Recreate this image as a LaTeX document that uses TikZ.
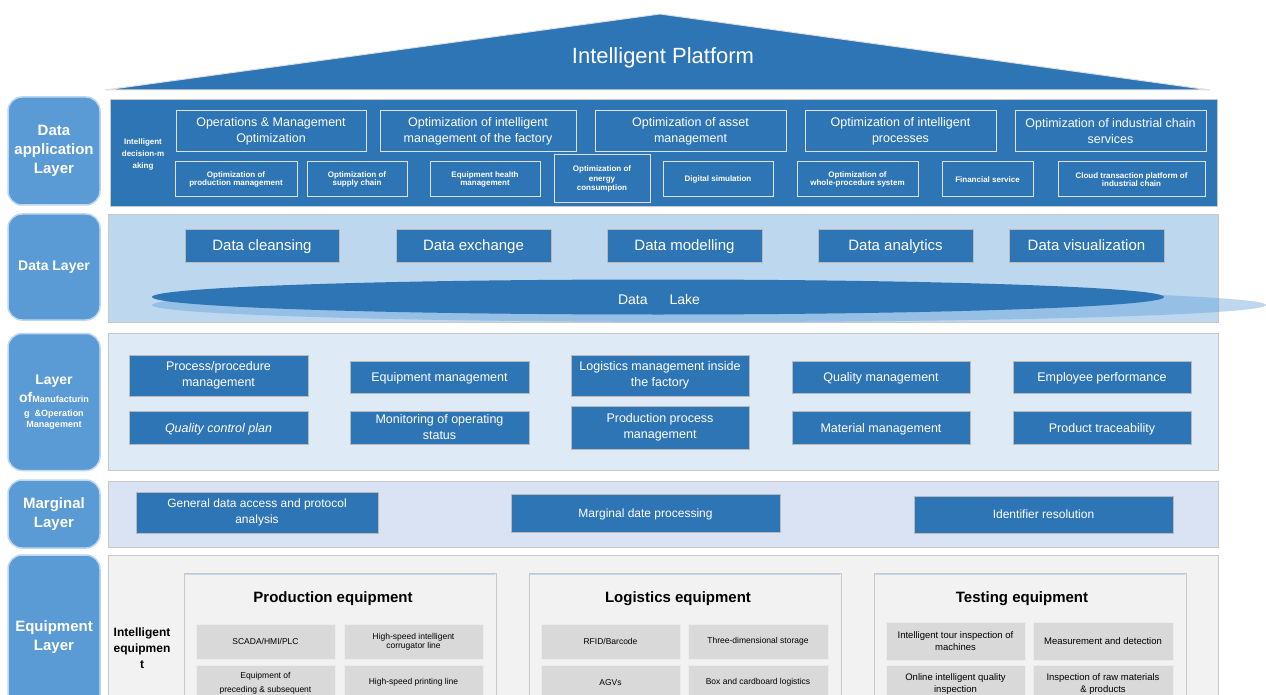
\documentclass[tikz,border=0pt]{standalone}
\usepackage{fontspec}
\setmainfont{Liberation Sans}
\definecolor{dblue}{HTML}{2E75B6}
\definecolor{lblue}{HTML}{5B9BD5}
\definecolor{lblborder}{HTML}{BDD7EE}
\definecolor{dlfill}{HTML}{BDD7EE}
\definecolor{momfill}{HTML}{DEEBF7}
\definecolor{mlfill}{HTML}{DAE3F3}
\definecolor{elfill}{HTML}{F2F2F2}
\definecolor{cellfill}{HTML}{D9D9D9}
\definecolor{panelborder}{HTML}{C8C8C8}
\newcommand{\fs}[2]{\fontsize{#1}{#2}\selectfont}
\tikzset{
  layerlabel/.style={rounded corners=14pt, fill=lblue, draw=lblborder, line width=1.5pt, text=white, align=center, inner sep=0pt, font=\bfseries\fs{15}{19}},
  panel/.style={draw=panelborder, line width=1pt},
  apbig/.style={draw=white!75!gray, line width=1pt, text=white, align=center, inner sep=0pt, font=\fs{12.5}{16}},
  apsmall/.style={draw=white!75!gray, line width=1pt, text=white, align=center, inner sep=0pt, font=\bfseries\fs{8}{8.5}},
  dbox/.style={fill=dblue, draw=gray!55, line width=0.8pt, text=white, align=center, inner sep=0pt, text depth=0pt, font=\fs{15}{18}},
  mbox/.style={fill=dblue, draw=gray!55, line width=0.8pt, text=white, align=center, inner sep=0pt, font=\fs{12.5}{16}},
  subpanel/.style={fill=elfill, draw=panelborder, line width=1pt},
  eqtitle/.style={font=\bfseries\fs{15}{18}, inner sep=0pt},
  cell/.style={fill=cellfill, draw=white!85!gray, line width=0.8pt, align=center, inner sep=0pt, font=\fs{8.5}{9}},
}
\begin{document}
\begin{tikzpicture}[x=1pt,y=-1pt]
\useasboundingbox (0,0) rectangle (1266,695);
\clip (0,0) rectangle (1266,695);
\fill[white] (0,0) rectangle (1266,695);
% roof
\filldraw[fill=dblue, draw=gray!25, line width=1pt] (105,90) -- (660,14) -- (1210,90) -- cycle;
\node[text=white, font=\fs{22}{26}] (title) at (663,58) {Intelligent Platform};
% layer labels
\node[layerlabel, minimum width=92pt, minimum height=108pt] (lab1) at (54,151) {Data\\application\\Layer};
\node[layerlabel, minimum width=92pt, minimum height=106pt, font=\bfseries\fs{14}{17}] (lab2) at (54,267) {Data Layer};
\node[layerlabel, minimum width=92pt, minimum height=137pt, font=\bfseries\fs{9}{11}] (lab3) at (54,402) {{\fs{14}{20}Layer}\\[4pt]{\fs{14}{12}of}Manufacturin\\[3pt]g\ \ \&Operation\\Management};
\node[layerlabel, minimum width=92pt, minimum height=68pt] (lab4) at (54,514) {Marginal\\Layer};
\node[layerlabel, minimum width=92pt, minimum height=165pt] (lab5) at (54,637.5) {Equipment\\Layer};
% panels
\filldraw[panel, fill=dblue] (110,100) rectangle (1217,207);
\filldraw[panel, fill=dlfill] (108,215) rectangle (1218,322);
\filldraw[panel, fill=momfill] (108,333) rectangle (1218,470);
\filldraw[panel, fill=mlfill] (108,481) rectangle (1218,547);
\filldraw[panel, fill=elfill] (108,555) rectangle (1218,720);
% data application layer
\node[text=white, align=center, font=\bfseries\fs{8}{12}, inner sep=0pt] (dec) at (143,154) {Intelligent\\decision-m\\aking};
\node[apbig, minimum width=190pt, minimum height=41pt] (a1) at (271,131.5) {Operations \& Management\\Optimization};
\node[apbig, minimum width=196pt, minimum height=41pt] (a2) at (478,131.5) {Optimization of intelligent\\management of the factory};
\node[apbig, minimum width=191pt, minimum height=41pt] (a3) at (690.5,131.5) {Optimization of asset\\management};
\node[apbig, minimum width=191pt, minimum height=41pt] (a4) at (900.5,131.5) {Optimization of intelligent\\processes};
\node[apbig, minimum width=191pt, minimum height=41pt] (a5) at (1110.5,131.5) {Optimization of industrial chain\\services};
\node[apsmall, minimum width=122pt, minimum height=35pt] (b1) at (236,179.5) {Optimization of\\production management};
\node[apsmall, minimum width=100pt, minimum height=35pt] (b2) at (357,179.5) {Optimization of\\supply chain};
\node[apsmall, minimum width=110pt, minimum height=35pt] (b3) at (485,179.5) {Equipment health\\management};
\node[apsmall, minimum width=96pt, minimum height=48pt, font=\bfseries\fs{8}{9.5}] (b4) at (602,179) {Optimization of\\energy\\consumption};
\node[apsmall, minimum width=110pt, minimum height=35pt] (b5) at (718,179.5) {Digital simulation};
\node[apsmall, minimum width=121pt, minimum height=35pt] (b6) at (857.5,179.5) {Optimization of\\whole-procedure system};
\node[apsmall, minimum width=91pt, minimum height=35pt] (b7) at (987.5,179.5) {Financial service};
\node[apsmall, minimum width=147pt, minimum height=35pt] (b8) at (1131.5,179.5) {Cloud transaction platform of\\industrial chain};
% data layer
\begin{scope}
\clip (0,215) rectangle (1266,330);
\fill[lblue, opacity=0.4] (709,305) ellipse [x radius=557, y radius=17];
\end{scope}
\fill[dblue] (658,297) ellipse [x radius=506, y radius=17.5];
\node[text=white, font=\fs{14}{17}] (lake) at (659,299) {Data\hspace{22pt}Lake};
\node[dbox, minimum width=154pt, minimum height=33pt] (d1) at (262,245.5) {Data cleansing};
\node[dbox, minimum width=155pt, minimum height=33pt] (d2) at (473.5,245.5) {Data exchange};
\node[dbox, minimum width=155pt, minimum height=33pt] (d3) at (684.5,245.5) {Data modelling};
\node[dbox, minimum width=155pt, minimum height=33pt] (d4) at (895.5,245.5) {Data analytics};
\node[dbox, minimum width=155pt, minimum height=33pt] (d5) at (1086.5,245.5) {Data visualization};
% manufacturing & operation management
\node[mbox, minimum width=179pt, minimum height=41pt] (m1) at (218.5,375.5) {Process/procedure\\management};
\node[mbox, minimum width=179pt, minimum height=32pt, text depth=0pt] (m2) at (439.5,377) {Equipment management};
\node[mbox, minimum width=178pt, minimum height=41pt] (m3) at (660,375.5) {Logistics management inside\\the factory};
\node[mbox, minimum width=178pt, minimum height=32pt, text depth=0pt] (m4) at (881,377) {Quality management};
\node[mbox, minimum width=178pt, minimum height=32pt, text depth=0pt] (m5) at (1102,377) {Employee performance};
\node[mbox, minimum width=179pt, minimum height=33pt, text depth=0pt, font=\itshape\fs{12.5}{16}] (n1) at (218.5,427.5) {Quality control plan};
\node[mbox, minimum width=179pt, minimum height=33pt] (n2) at (439.5,427.5) {Monitoring of operating\\status};
\node[mbox, minimum width=178pt, minimum height=43pt] (n3) at (660,427.5) {Production process\\management};
\node[mbox, minimum width=178pt, minimum height=33pt, text depth=0pt] (n4) at (881,427.5) {Material management};
\node[mbox, minimum width=178pt, minimum height=33pt, text depth=0pt] (n5) at (1102,427.5) {Product traceability};
% marginal layer
\node[mbox, minimum width=242pt, minimum height=41pt, font=\fs{12}{16}] (g1) at (257,512.5) {General data access and protocol\\analysis};
\node[mbox, minimum width=269pt, minimum height=38pt, text depth=0pt, font=\fs{12}{16}] (g2) at (645.5,513) {Marginal date processing};
\node[mbox, minimum width=259pt, minimum height=37pt, text depth=0pt, font=\fs{12}{16}] (g3) at (1043.5,514.5) {Identifier resolution};
% equipment layer
\node[align=center, font=\bfseries\fs{12}{16}, inner sep=0pt] (ie) at (142,648) {Intelligent\\equipmen\\t};
\filldraw[subpanel] (184,573) rectangle (496,720);
\filldraw[subpanel] (529,573) rectangle (841,720);
\filldraw[subpanel] (874,573) rectangle (1186,720);
\draw[lblborder, line width=1pt] (185,574) -- (495,574);
\draw[lblborder, line width=1pt] (530,574) -- (840,574);
\draw[lblborder, line width=1pt] (875,574) -- (1185,574);
\node[eqtitle] (t1) at (333,599) {Production equipment};
\node[eqtitle] (t2) at (678,599) {Logistics equipment};
\node[eqtitle] (t3) at (1022,599) {Testing equipment};
\node[cell, minimum width=139pt, minimum height=35pt] (p1) at (265.5,641.5) {SCADA/HMI/PLC};
\node[cell, minimum width=139pt, minimum height=35pt] (p2) at (413.5,641.5) {High-speed intelligent\\corrugator line};
\node[cell, minimum width=139pt, minimum height=35pt] (p3) at (265.5,682.5) {};
\node[font=\fs{8.5}{14}, align=center, inner sep=0pt, anchor=north] (p3t) at (265.5,672) {Equipment of\\preceding \& subsequent};
\node[cell, minimum width=139pt, minimum height=35pt] (p4) at (413.5,682.5) {High-speed printing line};
\node[cell, minimum width=139pt, minimum height=35pt] (l1) at (610.5,641.5) {RFID/Barcode};
\node[cell, minimum width=140pt, minimum height=35pt] (l2) at (758,641.5) {Three-dimensional storage};
\node[cell, minimum width=139pt, minimum height=35pt] (l3) at (610.5,682.5) {AGVs};
\node[cell, minimum width=140pt, minimum height=35pt] (l4) at (758,682.5) {Box and cardboard logistics};
\node[cell, minimum width=139pt, minimum height=38pt, font=\fs{9.5}{12}] (s1) at (955.5,641) {Intelligent tour inspection of\\machines};
\node[cell, minimum width=140pt, minimum height=38pt, font=\fs{9.5}{12}] (s2) at (1103,641) {Measurement and detection};
\node[cell, minimum width=139pt, minimum height=38pt, font=\fs{9.5}{12}] (s3) at (955.5,684) {Online intelligent quality\\inspection};
\node[cell, minimum width=140pt, minimum height=38pt, font=\fs{9.5}{12}] (s4) at (1103,684) {Inspection of raw materials\\\& products};
\end{tikzpicture}
\end{document}
